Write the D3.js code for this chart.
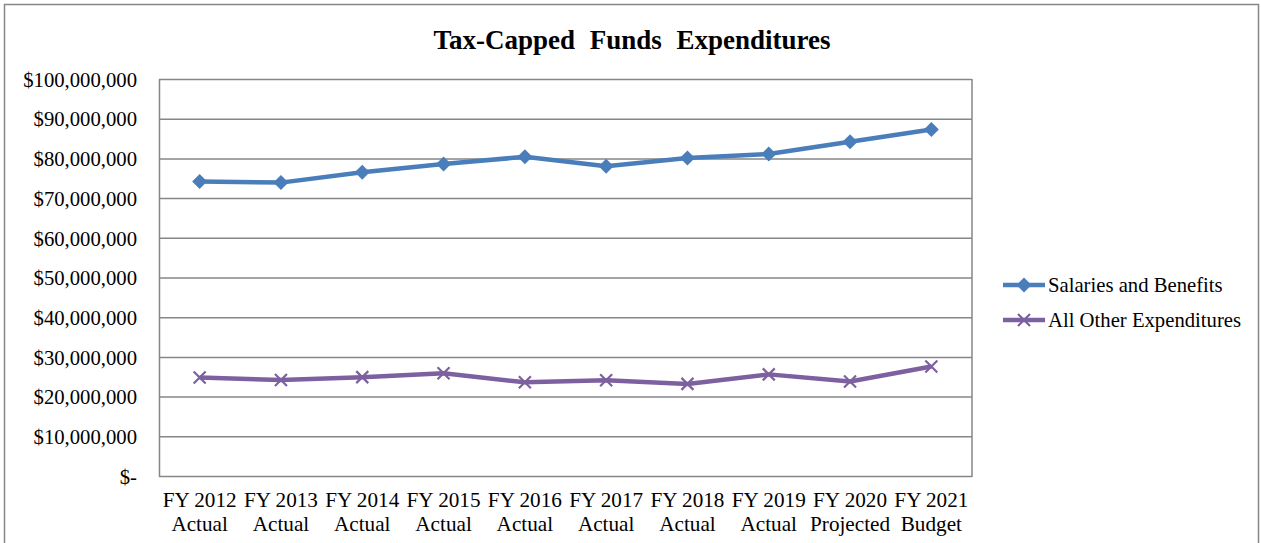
<!DOCTYPE html>
<html>
<head>
<meta charset="utf-8">
<script src="https://cdn.jsdelivr.net/npm/d3@7/dist/d3.min.js"></script>
<style>
  html, body { margin: 0; padding: 0; background: #fff; }
  svg { display: block; font-family: "Liberation Serif", "Times New Roman", serif; }
</style>
</head>
<body>
<svg id="chart" width="1261" height="543"></svg>
<script>
// Fiscal-year categories (two lines each on the axis)
const categories = [
  "FY 2012 Actual", "FY 2013 Actual", "FY 2014 Actual", "FY 2015 Actual",
  "FY 2016 Actual", "FY 2017 Actual", "FY 2018 Actual", "FY 2019 Actual",
  "FY 2020 Projected", "FY 2021 Budget"
];
const salariesAndBenefits = [
  74200000, 73900000, 76500000, 78600000, 80400000,
  78000000, 80100000, 81100000, 84200000, 87300000
];
const allOtherExpenditures = [
  24800000, 24200000, 24900000, 25900000, 23600000,
  24100000, 23200000, 25600000, 23800000, 27600000
];
const yTicks = [0, 10000000, 20000000, 30000000, 40000000, 50000000,
  60000000, 70000000, 80000000, 90000000, 100000000];
const seriesNames = ["Salaries and Benefits", "All Other Expenditures"];
const title = "Tax-Capped Funds Expenditures";

const series = [
  { name: seriesNames[0], values: salariesAndBenefits, color: "#4A7EBB", marker: "diamond" },
  { name: seriesNames[1], values: allOtherExpenditures, color: "#7D60A0", marker: "x" }
];

const svg = d3.select("#chart");
const plot = { left: 159, top: 79, right: 972, bottom: 476 };

// Outer chart frame
svg.append("rect")
  .attr("x", 4.5).attr("y", 4.5)
  .attr("width", 1254).attr("height", 560)
  .attr("fill", "#fff").attr("stroke", "#868686").attr("stroke-width", 1.5);

svg.append("text")
  .attr("x", 632).attr("y", 49)
  .attr("text-anchor", "middle")
  .attr("font-weight", "bold").attr("font-size", 27)
  .attr("word-spacing", 8)
  .attr("fill", "#000")
  .text(title);

const x = d3.scaleBand().domain(categories).range([plot.left, plot.right]);
const y = d3.scaleLinear().domain([0, 100000000]).range([plot.bottom, plot.top]);

// Horizontal gridlines
svg.append("g").selectAll("line").data(yTicks).join("line")
  .attr("x1", plot.left).attr("x2", plot.right)
  .attr("y1", d => y(d) + 0.5).attr("y2", d => y(d) + 0.5)
  .attr("stroke", "#868686").attr("stroke-width", 1.5);

// Plot area border (sides)
svg.append("line")
  .attr("x1", plot.left + 0.5).attr("x2", plot.left + 0.5)
  .attr("y1", plot.top).attr("y2", plot.bottom + 1)
  .attr("stroke", "#868686").attr("stroke-width", 1.5);
svg.append("line")
  .attr("x1", plot.right).attr("x2", plot.right)
  .attr("y1", plot.top).attr("y2", plot.bottom + 1)
  .attr("stroke", "#868686").attr("stroke-width", 1.5);

// Y axis labels
const fmt = d => d === 0 ? "$-" : "$" + d3.format(",")(d);
const yAxis = d3.axisLeft(y).tickValues(yTicks).tickFormat(fmt).tickSize(0).tickPadding(22);
const gy = svg.append("g").attr("transform", `translate(${plot.left},0)`).call(yAxis);
gy.select(".domain").remove();
gy.selectAll("text")
  .attr("font-family", "Liberation Serif, Times New Roman, serif")
  .attr("font-size", 20.7).attr("fill", "#000").attr("dy", "0.35em");

// X axis labels, split over two lines
const xAxis = d3.axisBottom(x).tickSize(0).tickFormat("");
const gx = svg.append("g").attr("transform", `translate(0,${plot.bottom})`).call(xAxis);
gx.select(".domain").remove();
gx.selectAll(".tick").each(function(d) {
  const parts = d.split(" ");
  const line1 = parts.slice(0, 2).join(" ");
  const line2 = parts.slice(2).join(" ");
  const t = d3.select(this).append("text")
    .attr("text-anchor", "middle")
    .attr("font-family", "Liberation Serif, Times New Roman, serif")
    .attr("font-size", 21.2).attr("fill", "#000");
  t.append("tspan").attr("x", 0).attr("y", 31).text(line1);
  t.append("tspan").attr("x", 0).attr("y", 55).text(line2);
});

const line = d3.line()
  .x((d, i) => x(categories[i]) + x.bandwidth() / 2)
  .y(d => y(d));

function drawMarker(g, type, color) {
  if (type === "diamond") {
    g.append("path")
      .attr("d", "M0,-7.5L7.5,0L0,7.5L-7.5,0Z")
      .attr("fill", color);
  } else {
    g.append("path")
      .attr("d", "M-6,-6L6,6M-6,6L6,-6")
      .attr("stroke", color).attr("stroke-width", 2.2).attr("fill", "none");
  }
}

series.forEach(s => {
  svg.append("path")
    .datum(s.values)
    .attr("d", line)
    .attr("fill", "none")
    .attr("stroke", s.color)
    .attr("stroke-width", 4.5)
    .attr("stroke-linejoin", "round");
  s.values.forEach((v, i) => {
    const g = svg.append("g")
      .attr("transform", `translate(${x(categories[i]) + x.bandwidth() / 2},${y(v)})`);
    drawMarker(g, s.marker, s.color);
  });
});

// Legend
const legend = svg.append("g");
series.forEach((s, i) => {
  const ly = 285 + i * 35;
  legend.append("line")
    .attr("x1", 1003).attr("x2", 1045)
    .attr("y1", ly).attr("y2", ly)
    .attr("stroke", s.color).attr("stroke-width", 4.5);
  const g = legend.append("g").attr("transform", `translate(1024,${ly})`);
  drawMarker(g, s.marker, s.color);
  legend.append("text")
    .attr("x", 1048).attr("y", ly).attr("dy", "0.35em")
    .attr("font-size", 20.7).attr("fill", "#000")
    .text(s.name);
});
</script>
</body>
</html>
